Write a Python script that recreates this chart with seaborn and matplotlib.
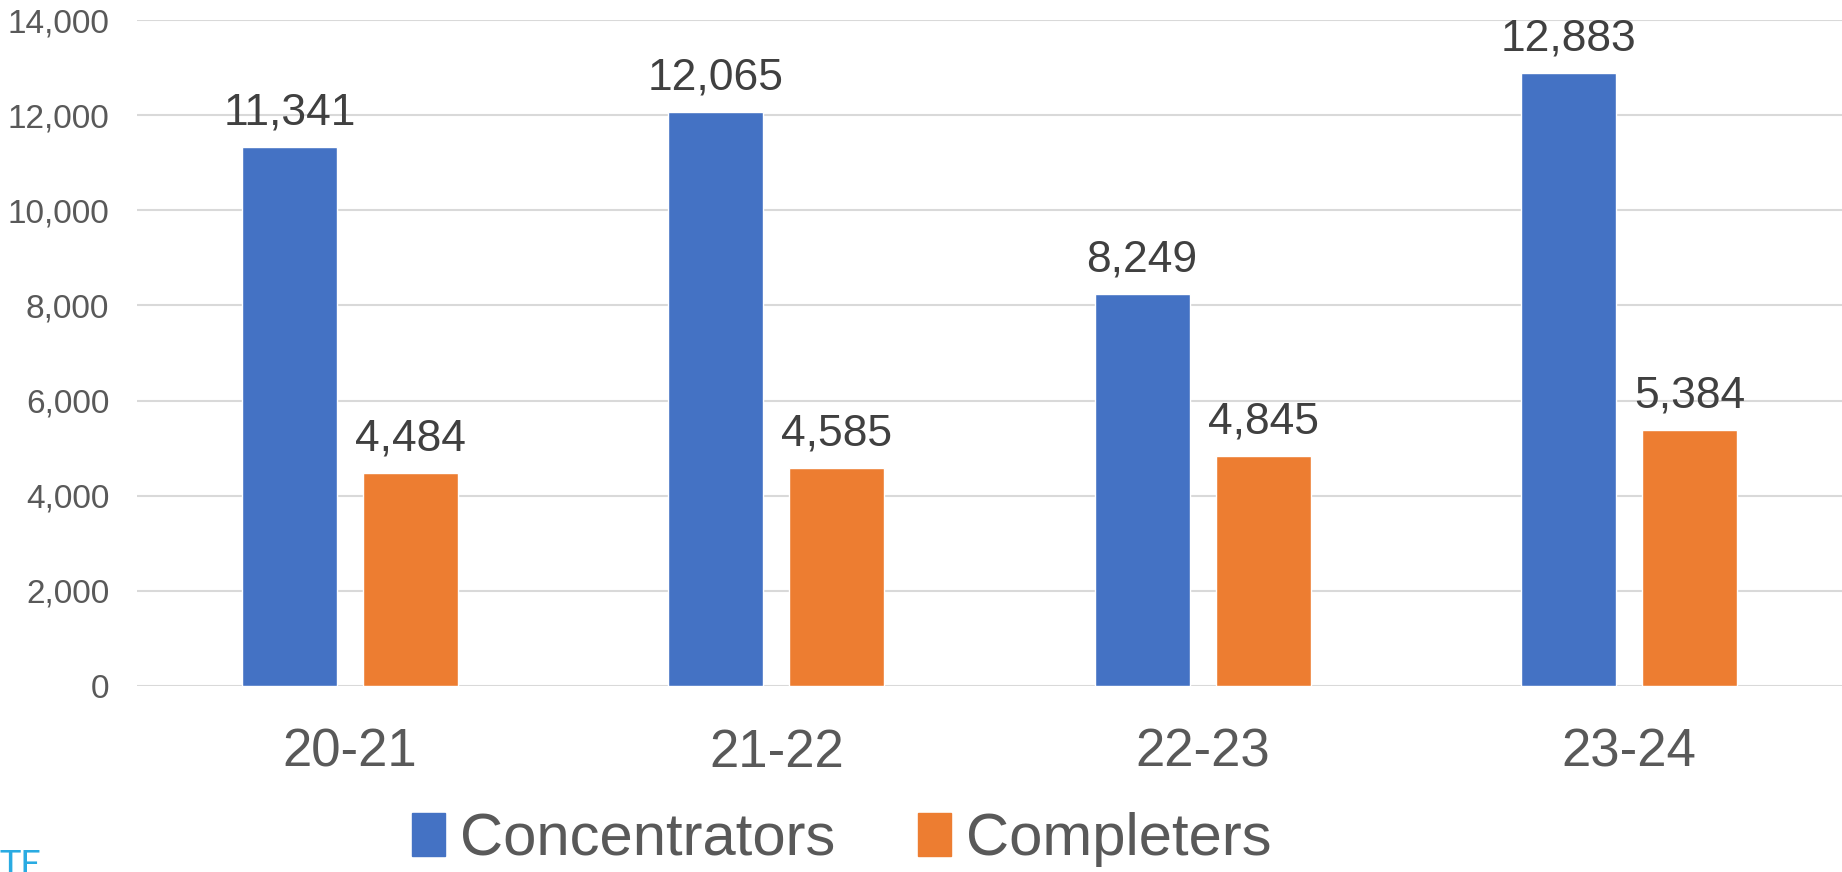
import pandas as pd
import matplotlib
matplotlib.use('Agg')
import matplotlib.pyplot as plt
import seaborn as sns

# chart values
years = ['20-21', '21-22', '22-23', '23-24']
concentrators = [11341, 12065, 8249, 12883]
completers = [4484, 4585, 4845, 5384]
series_names = ['Concentrators', 'Completers']
y_ticks = [0, 2000, 4000, 6000, 8000, 10000, 12000, 14000]

df = pd.DataFrame({
    'Year': years * 2,
    'Group': [series_names[0]] * len(years) + [series_names[1]] * len(years),
    'Count': concentrators + completers,
})

sns.set_style('white')
plt.rcParams['font.family'] = ['Liberation Sans', 'DejaVu Sans']

fig = plt.figure(figsize=(18.42, 8.72), dpi=100)
ax = fig.add_axes([0.0744, 0.2133, 0.9256, 0.7637])

palette = {'Concentrators': '#4472C4', 'Completers': '#ED7D31'}
sns.barplot(data=df, x='Year', y='Count', hue='Group', order=years,
            hue_order=series_names, palette=palette, width=0.568, gap=0.215,
            saturation=1, ax=ax, zorder=3, legend=True)

# data labels above each bar
for container in ax.containers:
    for bar in container:
        h = bar.get_height()
        ax.annotate(f'{h:,.0f}', (bar.get_x() + bar.get_width() / 2, h),
                    xytext=(0, 16), textcoords='offset points',
                    ha='center', va='baseline', fontsize=32, color='#404040')

ax.set_ylim(0, 14000)
ax.set_xlim(-0.5, 3.5)
ax.set_yticks(y_ticks)
ax.set_yticklabels([f'{v:,}' for v in y_ticks])
ax.yaxis.grid(True, color='#D9D9D9', linewidth=1.5, zorder=0)
ax.set_axisbelow(True)
for s in ax.spines.values():
    s.set_visible(False)
ax.tick_params(axis='y', length=0, pad=20, labelsize=24, labelcolor='#595959')
ax.tick_params(axis='x', length=0, pad=30, labelsize=38, labelcolor='#595959')
ax.set_xlabel('')
ax.set_ylabel('')

ax.get_legend().remove()
handles = [plt.Rectangle((0, 0), 1, 1, color=palette[n]) for n in series_names]
fig.legend(handles, series_names, loc='center', bbox_to_anchor=(0.457, 0.037),
           ncol=2, frameon=False, fontsize=43, labelcolor='#595959',
           handlelength=0.55, handleheight=0.75, handletextpad=0.25,
           columnspacing=1.4)

# cut-off logo text in the bottom-left corner
fig.text(0.0, -0.005, 'TE', fontsize=26, color='#29ABE2', ha='left', va='baseline',
         family=['Lato', 'DejaVu Sans'])

fig.savefig('out.png', dpi=100)
